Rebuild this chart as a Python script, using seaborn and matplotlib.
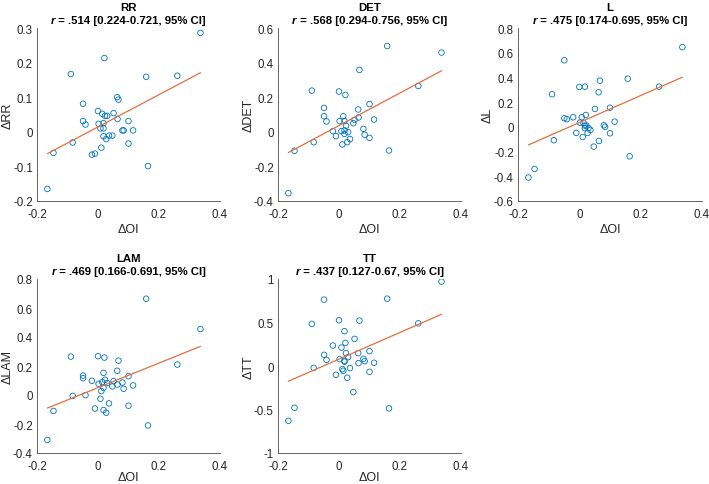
import numpy as np
import pandas as pd
import seaborn as sns
import matplotlib
matplotlib.use("Agg")
import matplotlib.pyplot as plt

sns.set_style("white")
plt.rcParams['font.family'] = ['Liberation Sans', 'DejaVu Sans']

# shared predictor
delta_oi = [-0.166, -0.146, -0.089, -0.083, -0.049, -0.049, -0.041, -0.020, -0.010, 0.000,
            0.002, 0.008, 0.011, 0.014, 0.018, 0.018, 0.018, 0.021, 0.023, 0.027,
            0.030, 0.036, 0.047, 0.051, 0.063, 0.064, 0.067, 0.080, 0.084, 0.100,
            0.100, 0.115, 0.158, 0.164, 0.260, 0.336]

rr = [-0.165, -0.061, 0.167, -0.031, 0.081, 0.031, 0.021, -0.066, -0.063, 0.060,
      0.023, 0.010, -0.046, 0.052, 0.025, 0.010, -0.013, 0.213, 0.046, -0.021,
      0.046, -0.011, -0.011, 0.054, 0.100, 0.037, 0.093, 0.004, 0.004, 0.031,
      -0.034, 0.004, 0.159, -0.099, 0.162, 0.286]

det = [-0.355, -0.110, 0.238, -0.060, 0.138, 0.090, 0.060, 0.004, -0.025, 0.233,
       0.062, 0.004, -0.073, 0.090, 0.062, 0.008, -0.012, 0.213, 0.035, -0.060,
       -0.002, -0.042, 0.050, 0.069, 0.129, 0.083, 0.358, 0.017, -0.017, 0.160,
       -0.035, 0.071, 0.496, -0.108, 0.265, 0.458]

lval = [-0.410, -0.340, 0.264, -0.108, 0.539, 0.070, 0.062, 0.078, -0.049, 0.323,
        0.034, 0.078, -0.082, 0.030, 0.325, 0.010, -0.010, 0.096, 0.010, -0.049,
        -0.010, -0.025, -0.160, 0.145, 0.280, -0.114, 0.374, 0.013, 0.000, 0.155,
        -0.052, 0.042, 0.390, -0.238, 0.325, 0.645]

lam = [-0.310, -0.110, 0.265, -0.006, 0.134, 0.116, -0.001, 0.098, -0.093, 0.268,
       0.077, -0.026, 0.027, 0.089, 0.153, 0.050, -0.104, 0.258, 0.105, -0.122,
       0.082, -0.058, 0.059, 0.096, 0.167, 0.072, 0.237, 0.086, 0.043, 0.130,
       -0.074, 0.066, 0.664, -0.210, 0.210, 0.455]

tt = [-0.630, -0.480, 0.484, -0.021, 0.763, 0.128, 0.071, 0.235, -0.101, 0.526,
      0.079, 0.212, -0.036, -0.055, 0.400, 0.060, 0.050, 0.266, 0.148, -0.135,
      0.102, -0.024, -0.300, 0.312, 0.148, 0.033, 0.522, 0.083, 0.056, 0.171,
      -0.067, 0.037, 0.774, -0.487, 0.490, 0.970]

names = ["RR", "DET", "L", "LAM", "TT"]
series = [rr, det, lval, lam, tt]
r_text = [" = .514 [0.224-0.721, 95% CI]",
          " = .568 [0.294-0.756, 95% CI]",
          " = .475 [0.174-0.695, 95% CI]",
          " = .469 [0.166-0.691, 95% CI]",
          " = .437 [0.127-0.67, 95% CI]"]
ylims = [(-0.2, 0.3), (-0.4, 0.6), (-0.6, 0.8), (-0.4, 0.8), (-1, 1)]
ysteps = [0.1, 0.2, 0.2, 0.2, 0.5]
xticks = [-0.2, 0, 0.2, 0.4]

W, H = 709, 485
fig = plt.figure(figsize=(W / 100, H / 100), dpi=100)

# axes boxes in pixels: left, top, right, bottom
boxes = [(37, 29, 220, 202), (278, 29, 461, 202), (518, 29, 702, 202),
         (37, 280, 220, 454), (278, 280, 461, 454)]

ax_col = '#4a4a4a'
txt_col = '#262626'
fs = 8.3

def fmt(v):
    s = f"{round(v, 3):g}"
    return "0" if s in ("-0", "0") else s

axes = []
for i, (name, yv) in enumerate(zip(names, series)):
    l, t, r, b = boxes[i]
    ax = fig.add_axes([l / W, 1 - b / H, (r - l) / W, (b - t) / H])
    axes.append(ax)
    df = pd.DataFrame({"x": delta_oi, "y": yv})
    sns.regplot(data=df, x="x", y="y", ax=ax, ci=None, color='#0072BD',
                scatter_kws=dict(facecolors='none', s=16, linewidths=0.6, alpha=1),
                line_kws=dict(color='#E0703F', lw=0.9))
    ax.set_xlim(-0.2, 0.4)
    ax.set_ylim(*ylims[i])
    ax.set_xticks(xticks)
    ax.set_xticklabels([fmt(v) for v in xticks])
    yt = np.arange(ylims[i][0], ylims[i][1] + 1e-9, ysteps[i])
    ax.set_yticks(yt)
    ax.set_yticklabels([fmt(v) for v in yt])
    ax.tick_params(direction='in', length=2.5, width=0.6, colors=ax_col,
                   labelcolor=txt_col, labelsize=fs)
    ax.tick_params(axis='x', pad=5)
    ax.tick_params(axis='y', pad=3)
    for sp in ['top', 'right']:
        ax.spines[sp].set_visible(False)
    for sp in ['left', 'bottom']:
        ax.spines[sp].set_color(ax_col)
        ax.spines[sp].set_linewidth(0.6)
    ax.set_xlabel("\u0394OI", fontsize=fs + 0.7, color=txt_col)
    ax.set_ylabel("\u0394" + name, fontsize=fs + 0.7, color=txt_col)
    ax.yaxis.set_label_coords(-0.13, 0.5)
    ax.xaxis.set_label_coords(0.5, -0.125 if i < 3 else -0.102)
    ax.annotate(name, xy=(0.5, 1), xycoords='axes fraction', xytext=(0, 15),
                textcoords='offset points', ha='center', va='center',
                fontsize=8.2, fontweight='bold', color='black')

# second title line with bold italic r, centred
fig.canvas.draw()
rend = fig.canvas.get_renderer()
for i, ax in enumerate(axes):
    t1 = ax.annotate("r", xy=(0.5, 1), xycoords='axes fraction', xytext=(0, 5.8),
                     textcoords='offset points', ha='left', va='center',
                     fontsize=8.2, fontweight='bold', fontstyle='italic', color='black')
    t2 = ax.annotate(r_text[i], xy=(0.5, 1), xycoords='axes fraction', xytext=(0, 5.8),
                     textcoords='offset points', ha='left', va='center',
                     fontsize=8.2, fontweight='bold', color='black')
    w1 = t1.get_window_extent(rend).width * 72 / fig.dpi
    w2 = t2.get_window_extent(rend).width * 72 / fig.dpi
    x0 = -(w1 + w2) / 2
    t1.set_position((x0, 5.8))
    t2.set_position((x0 + w1, 5.8))

fig.savefig("out.png", dpi=100)
